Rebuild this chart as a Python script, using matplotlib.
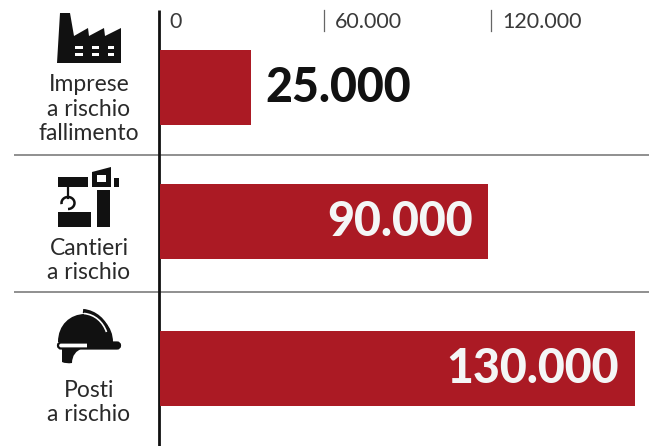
import matplotlib
matplotlib.use('Agg')
import matplotlib.pyplot as plt
from matplotlib.path import Path
from matplotlib.patches import PathPatch, Polygon, Rectangle, FancyBboxPatch, Arc

categories = ['Imprese\na rischio\nfallimento', 'Cantieri\na rischio', 'Posti\na rischio']
values = [25000, 90000, 130000]
value_labels = ['25.000', '90.000', '130.000']
tick_labels = ['0', '60.000', '120.000']

RED = '#ab1a24'
BLACK = '#111111'
W, H = 649, 446

plt.rcParams['font.family'] = ['Lato', 'DejaVu Sans']

fig = plt.figure(figsize=(W / 100, H / 100), dpi=100)
# page axes in pixel coordinates, for separators, header and icons
page = fig.add_axes([0, 0, 1, 1])
page.set_xlim(0, W)
page.set_ylim(H, 0)
page.axis('off')

# bar axes, x scale set so that 0 sits at the axis line
left, right = 160, 634.5
ax = fig.add_axes([left / W, 0, (right - left) / W, 1])
ax.set_xlim(0, 130000)
ax.set_ylim(H, 0)
ax.axis('off')
ax.patch.set_alpha(0)

bar_centers = [87, 221, 368]
ax.barh(bar_centers, values, height=75, color=RED, linewidth=0)

ax.text(values[0] + 4000, bar_centers[0] + 1, value_labels[0], color=BLACK, fontsize=33.5,
        fontweight='black', va='center', ha='left')
for i in [1, 2]:
    ax.text(values[i] - 4400, bar_centers[i] + 1, value_labels[i], color='#f4f6f6', fontsize=33.5,
            fontweight='black', va='center', ha='right')

# header labels, each one with a small mark on its left
tick_x = [160, 324, 491]
for x, lab in zip(tick_x, tick_labels):
    if x > 160:
        page.plot([x, x], [10, 31], color='#666666', lw=0.9)
    page.text(x + 9 + (x > 160) * 2, 22, lab, fontsize=15.5, color='#3a3a3a', va='center', ha='left')

# separators and vertical axis line
for y in [155, 292]:
    page.plot([14, W], [y, y], color='#8f8f8f', lw=1.4, solid_capstyle='butt')
page.plot([159, 159], [10, H], color=BLACK, lw=2.0, solid_capstyle='butt')

# category labels
label_y = [109, 260.5, 402.5]
for y, lab in zip(label_y, categories):
    page.text(89, y, lab, fontsize=16.5, color='#2a2a2a', ha='center', va='center', linespacing=1.18)

# factory icon
page.add_patch(Polygon([(57, 63), (60, 13), (70, 13), (74, 36), (88, 28), (89, 36), (104, 28), (105, 36),
                        (121, 28), (121, 63)], closed=True, fc=BLACK, ec='none'))
for x, w in [(75, 8), (92, 7), (108, 6)]:
    for y in [46, 53]:
        page.add_patch(Rectangle((x, y), w, 3, fc='white', ec='none'))

# crane icon
page.add_patch(Rectangle((58, 177), 30, 10, fc=BLACK, ec='none'))
page.add_patch(Polygon([(92, 172), (111, 167), (111, 187), (92, 187)], closed=True, fc=BLACK, ec='none'))
page.add_patch(Rectangle((97, 175), 9, 7, fc='white', ec='none'))
page.add_patch(Rectangle((114, 178), 5, 9, fc=BLACK, ec='none'))
page.add_patch(Rectangle((97, 190), 13, 37, fc=BLACK, ec='none'))
page.add_patch(Rectangle((58, 212), 33, 15, fc=BLACK, ec='none'))
page.plot([68, 68], [187, 198], color=BLACK, lw=1.6)
page.add_patch(Arc((68, 203), 13, 12, theta1=-190, theta2=90, ec=BLACK, lw=1.8))

# helmet icon: dome, neck guard, brim and highlight
dome = Path([(58, 342), (58, 325), (70, 314), (85, 314), (102, 314), (113, 327), (113, 342), (58, 342)],
            [Path.MOVETO, Path.CURVE4, Path.CURVE4, Path.CURVE4, Path.CURVE4, Path.CURVE4, Path.CURVE4,
             Path.CLOSEPOLY])
page.add_patch(PathPatch(dome, fc=BLACK, ec='none'))
guard = Path([(62, 348), (83, 348), (72, 352), (72, 363), (66, 364), (62, 362), (62, 348)],
             [Path.MOVETO, Path.LINETO, Path.CURVE3, Path.CURVE3, Path.CURVE3, Path.CURVE3, Path.CLOSEPOLY])
page.add_patch(PathPatch(guard, fc=BLACK, ec='none'))
page.add_patch(FancyBboxPatch((58, 342.5), 62, 6, boxstyle='round,pad=0,rounding_size=3',
                              fc='white', ec=BLACK, lw=1.6))
page.add_patch(Rectangle((87, 342), 32, 6.5, fc=BLACK, ec='none'))
arch = Path([(83, 311), (95, 312), (105, 321), (108, 332)], [Path.MOVETO, Path.CURVE4, Path.CURVE4, Path.CURVE4])
page.add_patch(PathPatch(arch, fc='none', ec=BLACK, lw=3.0))
shine = Path([(84, 313.5), (95, 314.5), (103, 322), (106.5, 332)], [Path.MOVETO, Path.CURVE4, Path.CURVE4, Path.CURVE4])
page.add_patch(PathPatch(shine, fc='none', ec='white', lw=1.2))

fig.savefig('out.png', dpi=100, facecolor='white')
